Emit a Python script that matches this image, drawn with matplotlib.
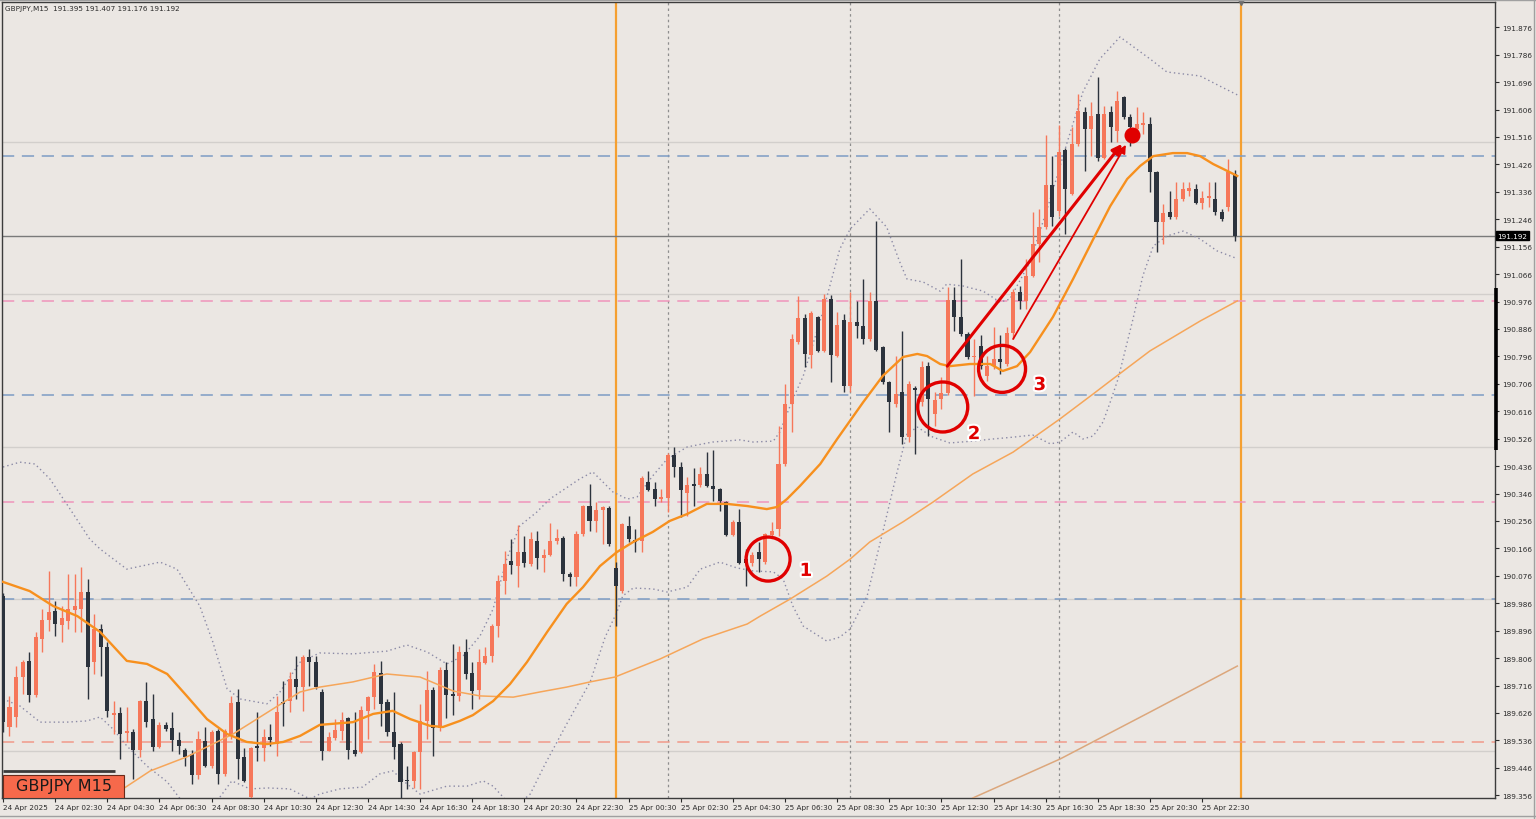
import matplotlib
matplotlib.use("Agg")
import matplotlib.pyplot as plt
import matplotlib.transforms as mtrans
import matplotlib.patheffects as pe
from matplotlib.patches import Rectangle
from matplotlib import font_manager
import numpy as np

# ---------------- data ----------------
opens = [
    190.010, 189.580, 189.613, 189.744, 189.797, 189.685, 189.869, 189.930, 189.961, 189.915,
    189.928, 189.964, 189.967, 190.023, 189.793, 189.902, 189.843, 189.619, 189.626, 189.560,
    189.564, 189.505, 189.665, 189.606, 189.514, 189.587, 189.577, 189.537, 189.505, 189.491,
    189.423, 189.534, 189.452, 189.567, 189.426, 189.557, 189.662, 189.482, 189.350, 189.518,
    189.511, 189.547, 189.524, 189.662, 189.665, 189.738, 189.711, 189.810, 189.793, 189.695,
    189.501, 189.544, 189.567, 189.610, 189.505, 189.498, 189.633, 189.679, 189.757, 189.662,
    189.564, 189.524, 189.406, 189.403, 189.498, 189.600, 189.701, 189.577, 189.767, 189.688,
    189.682, 189.826, 189.757, 189.701, 189.790, 189.813, 189.911, 190.059, 190.125, 190.108,
    190.154, 190.115, 190.190, 190.135, 190.144, 190.190, 190.200, 190.082, 190.072, 190.213,
    190.305, 190.256, 190.292, 190.298, 190.102, 190.026, 190.240, 190.194, 190.190, 190.384,
    190.361, 190.328, 190.331, 190.472, 190.433, 190.348, 190.377, 190.374, 190.410, 190.371,
    190.361, 190.318, 190.210, 190.253, 190.131, 190.118, 190.154, 190.121, 190.210, 190.230,
    190.443, 190.640, 190.843, 190.922, 190.800, 190.925, 190.814, 190.984, 190.797, 190.915,
    190.699, 190.909, 190.896, 190.853, 190.978, 190.827, 190.712, 190.640, 190.679, 190.531,
    190.692, 190.646, 190.764, 190.607, 190.656, 190.676, 190.981, 190.925, 190.869, 190.794,
    190.830, 190.732, 190.764, 190.787, 190.771, 190.873, 191.007, 190.978, 191.060, 191.165,
    191.221, 191.359, 191.273, 191.474, 191.329, 191.493, 191.598, 191.542, 191.591, 191.447,
    191.598, 191.536, 191.647, 191.582, 191.542, 191.556, 191.559, 191.401, 191.237, 191.270,
    191.254, 191.313, 191.339, 191.346, 191.300, 191.316, 191.313, 191.270, 191.287, 191.395,
]
highs = [
    190.020, 189.682, 189.780, 189.800, 189.826, 189.892, 189.967, 190.092, 189.993, 189.977,
    190.082, 190.082, 190.105, 190.066, 189.951, 189.918, 189.859, 189.665, 189.646, 189.646,
    189.574, 189.670, 189.728, 189.688, 189.596, 189.596, 189.629, 189.564, 189.510, 189.505,
    189.567, 189.580, 189.570, 189.574, 189.574, 189.682, 189.705, 189.510, 189.515, 189.629,
    189.574, 189.590, 189.682, 189.731, 189.761, 189.813, 189.816, 189.836, 189.813, 189.705,
    189.564, 189.606, 189.629, 189.613, 189.629, 189.649, 189.682, 189.787, 189.797, 189.672,
    189.695, 189.531, 189.452, 189.500, 189.656, 189.764, 189.711, 189.777, 189.793, 189.852,
    189.846, 189.869, 189.793, 189.836, 189.843, 189.918, 190.079, 190.157, 190.197, 190.243,
    190.207, 190.220, 190.223, 190.164, 190.249, 190.230, 190.207, 190.089, 190.223, 190.310,
    190.377, 190.318, 190.305, 190.305, 190.121, 190.250, 190.272, 190.230, 190.403, 190.420,
    190.384, 190.361, 190.479, 190.499, 190.449, 190.400, 190.430, 190.433, 190.482, 190.490,
    190.364, 190.322, 190.260, 190.295, 190.164, 190.154, 190.187, 190.215, 190.253, 190.568,
    190.705, 190.869, 190.994, 190.935, 190.945, 190.928, 191.000, 190.997, 190.942, 190.935,
    191.007, 190.978, 191.050, 191.007, 191.240, 190.830, 190.715, 190.797, 190.880, 190.715,
    190.700, 190.781, 190.777, 190.680, 190.728, 191.024, 191.024, 191.115, 190.875, 190.853,
    190.866, 190.797, 190.892, 190.866, 190.892, 191.017, 191.027, 191.115, 191.270, 191.280,
    191.523, 191.454, 191.556, 191.480, 191.549, 191.657, 191.614, 191.631, 191.713, 191.618,
    191.618, 191.667, 191.650, 191.590, 191.614, 191.598, 191.582, 191.405, 191.296, 191.339,
    191.369, 191.369, 191.369, 191.362, 191.339, 191.369, 191.369, 191.280, 191.444, 191.407,
]
lows = [
    189.564, 189.551, 189.580, 189.688, 189.662, 189.680, 189.826, 189.895, 189.879, 189.859,
    189.902, 189.892, 189.892, 189.672, 189.754, 189.747, 189.613, 189.557, 189.475, 189.531,
    189.410, 189.482, 189.580, 189.501, 189.510, 189.567, 189.501, 189.491, 189.452, 189.393,
    189.410, 189.450, 189.445, 189.393, 189.420, 189.541, 189.410, 189.400, 189.347, 189.469,
    189.469, 189.518, 189.485, 189.583, 189.629, 189.672, 189.633, 189.715, 189.705, 189.472,
    189.500, 189.537, 189.537, 189.475, 189.485, 189.494, 189.541, 189.639, 189.583, 189.551,
    189.475, 189.347, 189.377, 189.380, 189.377, 189.541, 189.485, 189.567, 189.610, 189.619,
    189.665, 189.738, 189.639, 189.672, 189.787, 189.793, 189.875, 190.016, 190.082, 190.039,
    190.105, 190.108, 190.098, 190.089, 190.140, 190.180, 190.059, 190.043, 190.043, 190.207,
    190.223, 190.220, 190.180, 190.175, 189.911, 190.020, 190.187, 190.154, 190.154, 190.354,
    190.305, 190.318, 190.285, 190.400, 190.269, 190.272, 190.305, 190.367, 190.367, 190.322,
    190.289, 190.207, 190.207, 190.115, 190.043, 190.108, 190.089, 190.115, 190.207, 190.207,
    190.436, 190.548, 190.837, 190.761, 190.758, 190.810, 190.810, 190.712, 190.794, 190.679,
    190.679, 190.856, 190.837, 190.846, 190.815, 190.706, 190.548, 190.630, 190.509, 190.515,
    190.476, 190.633, 190.535, 190.568, 190.623, 190.670, 190.879, 190.863, 190.787, 190.666,
    190.754, 190.715, 190.754, 190.738, 190.764, 190.853, 190.951, 190.950, 191.057, 191.106,
    191.214, 191.224, 191.257, 191.198, 191.326, 191.487, 191.405, 191.454, 191.437, 191.444,
    191.500, 191.500, 191.575, 191.487, 191.526, 191.526, 191.336, 191.139, 191.165, 191.247,
    191.247, 191.306, 191.323, 191.297, 191.280, 191.287, 191.260, 191.241, 191.274, 191.176,
]
closes = [
    189.596, 189.646, 189.744, 189.793, 189.685, 189.875, 189.931, 189.957, 189.918, 189.938,
    189.967, 189.977, 190.023, 189.777, 189.902, 189.843, 189.633, 189.626, 189.557, 189.567,
    189.505, 189.665, 189.596, 189.514, 189.587, 189.573, 189.537, 189.518, 189.482, 189.423,
    189.541, 189.452, 189.564, 189.426, 189.567, 189.659, 189.475, 189.403, 189.511, 189.511,
    189.547, 189.537, 189.629, 189.656, 189.738, 189.711, 189.810, 189.793, 189.711, 189.501,
    189.547, 189.570, 189.603, 189.505, 189.491, 189.636, 189.679, 189.761, 189.656, 189.564,
    189.514, 189.400, 189.403, 189.498, 189.600, 189.701, 189.577, 189.767, 189.685, 189.682,
    189.826, 189.754, 189.698, 189.793, 189.813, 189.911, 190.059, 190.115, 190.112, 190.154,
    190.118, 190.197, 190.135, 190.144, 190.190, 190.200, 190.082, 190.072, 190.213, 190.305,
    190.256, 190.292, 190.302, 190.180, 190.043, 190.246, 190.197, 190.187, 190.397, 190.358,
    190.328, 190.335, 190.472, 190.433, 190.358, 190.374, 190.371, 190.410, 190.371, 190.361,
    190.322, 190.210, 190.253, 190.118, 190.118, 190.144, 190.131, 190.213, 190.223, 190.443,
    190.640, 190.853, 190.922, 190.804, 190.938, 190.814, 190.984, 190.800, 190.899, 190.699,
    190.909, 190.896, 190.853, 190.978, 190.817, 190.712, 190.646, 190.673, 190.531, 190.705,
    190.686, 190.761, 190.656, 190.653, 190.676, 190.981, 190.925, 190.869, 190.794, 190.797,
    190.764, 190.764, 190.787, 190.777, 190.873, 191.007, 190.978, 191.060, 191.165, 191.221,
    191.359, 191.254, 191.467, 191.346, 191.493, 191.601, 191.542, 191.585, 191.447, 191.591,
    191.549, 191.634, 191.582, 191.549, 191.559, 191.562, 191.401, 191.237, 191.267, 191.254,
    191.313, 191.346, 191.349, 191.300, 191.316, 191.323, 191.270, 191.247, 191.401, 191.192,
]

# indicator lines: (bar index, price)
ma20 = [(0, 190.056), (4.1, 190.026), (7.7, 189.977), (11.4, 189.944), (14.9, 189.892),
        (19.0, 189.797), (22.1, 189.787), (25.2, 189.754), (28.2, 189.682), (31.3, 189.606),
        (34.4, 189.557), (37.4, 189.531), (40.5, 189.524), (43.0, 189.531), (45.6, 189.551),
        (48.6, 189.587), (53.7, 189.596), (56.8, 189.623), (59.8, 189.633), (62.5, 189.606),
        (65.5, 189.584), (67.5, 189.580), (70.1, 189.600), (72.1, 189.619), (75.2, 189.665),
        (77.8, 189.721), (80.4, 189.793), (83.5, 189.892), (86.5, 189.984), (89.0, 190.039),
        (91.6, 190.108), (94.2, 190.154), (96.7, 190.187), (99.7, 190.220), (102.3, 190.256),
        (105.0, 190.279), (108.0, 190.312), (111.1, 190.312), (114.2, 190.305), (117.2, 190.295),
        (118.8, 190.302), (120.3, 190.328), (122.3, 190.371), (125.4, 190.443), (128.0, 190.525),
        (132.0, 190.646), (135.0, 190.732), (138.1, 190.794), (140.3, 190.804), (141.8, 190.797),
        (143.8, 190.771), (145.3, 190.764), (148.4, 190.771), (151.5, 190.771), (153.4, 190.748),
        (155.6, 190.764), (157.6, 190.810), (161.1, 190.925), (164.2, 191.050), (167.3, 191.181),
        (169.9, 191.289), (172.5, 191.378), (174.5, 191.421), (176.5, 191.453), (179.5, 191.463),
        (181.7, 191.463), (183.7, 191.453), (185.7, 191.427), (187.9, 191.404), (189.4, 191.388)]

ma75 = [(17.2, 189.360), (22.6, 189.436), (28.2, 189.482), (35.3, 189.557), (41.4, 189.639),
        (45.6, 189.695), (48.6, 189.711), (53.7, 189.728), (58.9, 189.754), (64.0, 189.744),
        (69.1, 189.698), (73.2, 189.682), (78.3, 189.678), (82.4, 189.695), (86.5, 189.711),
        (90.1, 189.728), (93.9, 189.744), (100.8, 189.803), (107.4, 189.869), (114.2, 189.918),
        (116.2, 189.944), (120.8, 190.000), (126.4, 190.075), (130.0, 190.131), (133.0, 190.187),
        (138.1, 190.253), (142.7, 190.318), (148.8, 190.410), (155.0, 190.482), (162.2, 190.591),
        (167.3, 190.673), (170.3, 190.722), (176.0, 190.814), (183.7, 190.912), (189.4, 190.978)]

ma200 = [(148.8, 189.347), (162.2, 189.475), (176.0, 189.629), (189.4, 189.780)]

bb_upper = [(0, 190.433), (2.6, 190.449), (4.9, 190.443), (7.2, 190.394), (10.3, 190.295),
            (13.3, 190.197), (14.9, 190.164), (19.0, 190.098), (24.1, 190.121), (26.7, 190.098),
            (30.2, 189.977), (32.2, 189.859), (34.4, 189.705), (36.4, 189.672), (40.5, 189.656),
            (42.5, 189.695), (45.6, 189.793), (48.6, 189.823), (53.7, 189.820), (58.9, 189.829),
            (62.0, 189.849), (65.1, 189.826), (68.1, 189.787), (70.6, 189.813), (73.2, 189.879),
            (75.2, 189.967), (77.3, 190.131), (79.3, 190.240), (81.9, 190.285), (83.9, 190.328),
            (88.5, 190.394), (90.5, 190.417), (93.6, 190.351), (95.8, 190.328), (97.3, 190.335),
            (99.7, 190.404), (101.9, 190.459), (105.0, 190.499), (108.9, 190.515), (113.1, 190.522),
            (115.1, 190.515), (118.2, 190.518), (119.2, 190.548), (121.2, 190.656), (122.8, 190.732),
            (125.8, 190.942), (128.4, 191.148), (130.0, 191.214), (133.0, 191.280), (135.6, 191.220),
            (137.6, 191.106), (138.7, 191.050), (141.2, 191.040), (143.8, 191.010), (144.8, 191.033),
            (147.3, 191.027), (150.4, 191.010), (153.0, 190.974), (154.5, 190.984), (157.6, 191.106),
            (160.7, 191.312), (163.3, 191.499), (165.7, 191.663), (168.3, 191.772), (171.4, 191.844),
            (176.0, 191.772), (178.6, 191.729), (183.7, 191.716), (186.7, 191.683), (189.4, 191.654)]

bb_lower = [(0, 189.672), (2.6, 189.649), (5.7, 189.596), (9.8, 189.596), (12.9, 189.600),
            (14.9, 189.613), (16.9, 189.573), (19.0, 189.518), (22.1, 189.452), (25.2, 189.400),
            (27.2, 189.344), (30.2, 189.311), (32.4, 189.324), (35.1, 189.403), (37.9, 189.377),
            (40.7, 189.380), (44.0, 189.377), (47.1, 189.344), (48.6, 189.360), (51.7, 189.377),
            (55.2, 189.383), (57.8, 189.426), (59.8, 189.436), (62.0, 189.393), (64.0, 189.360),
            (68.1, 189.386), (71.2, 189.386), (73.7, 189.403), (75.2, 189.386), (77.0, 189.344),
            (78.9, 189.324), (80.9, 189.360), (83.2, 189.459), (86.5, 189.590), (90.1, 189.728),
            (92.4, 189.875), (94.2, 189.957), (95.1, 190.010), (96.7, 190.036), (99.7, 190.033),
            (101.9, 190.023), (105.0, 190.039), (107.0, 190.098), (110.0, 190.121), (112.6, 190.102),
            (115.1, 190.092), (118.2, 190.089), (119.7, 190.066), (121.2, 189.977), (122.8, 189.911),
            (126.4, 189.862), (128.4, 189.875), (130.0, 189.902), (132.6, 190.010), (135.0, 190.220),
            (137.2, 190.417), (138.7, 190.541), (140.3, 190.564), (142.7, 190.531), (145.3, 190.512),
            (148.8, 190.518), (151.9, 190.525), (155.0, 190.531), (158.0, 190.538), (160.7, 190.509),
            (162.2, 190.515), (164.2, 190.548), (165.7, 190.525), (167.3, 190.535), (168.8, 190.581),
            (169.9, 190.646), (171.1, 190.722), (173.4, 190.919), (174.9, 191.060), (176.5, 191.158),
            (178.6, 191.191), (181.1, 191.207), (183.7, 191.181), (186.3, 191.142), (189.1, 191.119)]

xtick_labels = ["24 Apr 2025", "24 Apr 02:30", "24 Apr 04:30", "24 Apr 06:30", "24 Apr 08:30",
                "24 Apr 10:30", "24 Apr 12:30", "24 Apr 14:30", "24 Apr 16:30", "24 Apr 18:30",
                "24 Apr 20:30", "24 Apr 22:30", "25 Apr 00:30", "25 Apr 02:30", "25 Apr 04:30",
                "25 Apr 06:30", "25 Apr 08:30", "25 Apr 10:30", "25 Apr 12:30", "25 Apr 14:30",
                "25 Apr 16:30", "25 Apr 18:30", "25 Apr 20:30", "25 Apr 22:30"]
ytick_values = [189.356, 189.446, 189.536, 189.626, 189.716, 189.806, 189.896, 189.986, 190.076,
                190.166, 190.256, 190.346, 190.436, 190.526, 190.616, 190.706, 190.796, 190.886,
                190.976, 191.066, 191.156, 191.246, 191.336, 191.426, 191.516, 191.606, 191.696,
                191.786, 191.876]

round_levels = [189.5, 190.0, 190.5, 191.0, 191.5]
blue_levels = [189.999, 190.670, 191.454]
pink_levels = [190.319, 190.979]
salmon_levels = [189.530]
last_price = 191.192
day_separators = [94, 190]
session_lines = [102, 130, 162]

# ---------------- style ----------------
BG = "#ebe7e3"
BULL = "#f6775a"
BEAR = "#2c333d"

_names = {f.name for f in font_manager.fontManager.ttflist}
if "Liberation Sans Narrow" in _names:
    TICK_FONT, TICK_SIZE = "Liberation Sans Narrow", 6.6
else:
    TICK_FONT, TICK_SIZE = "DejaVu Sans", 5.2

W, H = 1536, 820
fig = plt.figure(figsize=(W / 100, H / 100), dpi=100, facecolor=BG)
ax = fig.add_axes([2 / W, 1 - 799 / H, 1493 / W, 796 / H])
ax.set_facecolor(BG)
ax.set_xlim(-0.15, 228.94)
ax.set_ylim(189.3471, 191.9587)

# horizontal levels
for lv in round_levels:
    ax.axhline(lv, color="#d2cfcc", lw=1.0, zorder=1)
for lv in blue_levels:
    ax.axhline(lv, color="#7d9cc4", lw=1.1, ls=(0, (8, 5)), zorder=1.5)
for lv in pink_levels:
    ax.axhline(lv, color="#ef94bb", lw=1.1, ls=(0, (8, 5)), zorder=1.5)
for lv in salmon_levels:
    ax.axhline(lv, color="#f19a8a", lw=1.1, ls=(0, (8, 5)), zorder=1.5)
ax.axhline(last_price, color="#7a7a7a", lw=1.0, zorder=1.6)

# vertical lines
for b in session_lines:
    ax.axvline(b, color="#8e8e8e", lw=0.9, ls=(0, (2, 2.5)), zorder=1.2)
for b in day_separators:
    ax.axvline(b, color="#f5a031", lw=1.6, zorder=1.3)

# bollinger bands
for band in (bb_upper, bb_lower):
    bx, by = zip(*band)
    ax.plot(bx, by, color="#8b8aa6", lw=1.0, ls=(0, (1, 2.2)), zorder=2)

# candles
idx = np.arange(len(closes))
o = np.array(opens); c = np.array(closes); h = np.array(highs); l = np.array(lows)
bull = c >= o
cols = np.where(bull, BULL, BEAR)
ax.vlines(idx, l, h, colors=cols, lw=1.0, zorder=3)
bottoms = np.minimum(o, c)
heights = np.maximum(np.abs(c - o), 0.004)
ax.bar(idx, heights, bottom=bottoms, width=0.62, color=cols, lw=0, zorder=3.2)

# moving averages
mx, my = zip(*ma200)
ax.plot(mx, my, color="#dca77c", lw=1.1, zorder=4)
mx, my = zip(*ma75)
ax.plot(mx, my, color="#f6a65a", lw=1.1, zorder=4)
mx, my = zip(*ma20)
ax.plot(mx, my, color="#f7901e", lw=1.7, zorder=4.2)

# annotations: circles, numbers, arrows, dot
RED = "#e00000"
circles = [(117.4, 190.131, 22), (144.2, 190.630, 25), (153.3, 190.755, 23.5)]
for cx, cy, r in circles:
    d = 2 * r * 0.72
    ax.scatter([cx], [cy], s=d * d, facecolors="none", edgecolors=RED, linewidths=2.4, zorder=6)
numbers = [("1", 123.2, 190.092), ("2", 149.0, 190.541), ("3", 159.1, 190.702)]
for t, nx, ny in numbers:
    ax.text(nx, ny, t, color=RED, fontsize=13, fontweight="bold", ha="center", va="center",
            zorder=7, path_effects=[pe.withStroke(linewidth=3, foreground="white")])
ax.annotate("", xy=(171.7, 191.493), xytext=(144.9, 190.764),
            arrowprops=dict(arrowstyle="-|>", color=RED, lw=2.2, mutation_scale=14,
                            shrinkA=0, shrinkB=0), zorder=6)
ax.annotate("", xy=(172.3, 191.490), xytext=(155.0, 190.853),
            arrowprops=dict(arrowstyle="-|>", color=RED, lw=1.3, mutation_scale=12,
                            shrinkA=0, shrinkB=0), zorder=6)
ax.plot([173.2], [191.522], "o", color=RED, ms=10.5, zorder=7)

# axes styling
for side in ("left", "top", "right", "bottom"):
    ax.spines[side].set_color("#3c3c3c")
    ax.spines[side].set_linewidth(1.0)
ax.yaxis.tick_right()
ax.set_yticks(ytick_values)
ax.set_yticklabels([f"{v:.3f}" for v in ytick_values])
ax.tick_params(axis="y", direction="out", length=3, width=0.8, pad=2, labelsize=TICK_SIZE,
               colors="#2a2a2a")
ax.set_xticks(np.arange(0, 8 * len(xtick_labels), 8))
ax.set_xticklabels(xtick_labels)
ax.tick_params(axis="x", direction="out", length=3, width=0.8, pad=1.5, labelsize=TICK_SIZE,
               colors="#2a2a2a")
for lab in ax.get_xticklabels():
    lab.set_ha("left")
    lab.set_family(TICK_FONT)
for lab in ax.get_yticklabels():
    lab.set_family(TICK_FONT)

# right-axis decorations
btr = mtrans.blended_transform_factory(ax.transAxes, ax.transData)
ax.plot([1.0008, 1.0008], [190.489, 191.020], transform=btr, color="black", lw=2.6,
        clip_on=False, zorder=8, solid_capstyle="butt")
ax.text(1.0016, last_price, "191.192", transform=btr, color="white", fontsize=TICK_SIZE,
        family=TICK_FONT, ha="left", va="center", zorder=9,
        bbox=dict(boxstyle="square,pad=0.2", fc="black", ec="black"))
ax.plot([190], [191.9587], marker="v", color="#6e6e6e", ms=4.5, clip_on=False, zorder=8)

# header text and symbol box
ax.text(0.002, 0.9925, "GBPJPY,M15  191.395 191.407 191.176 191.192", transform=ax.transAxes,
        fontsize=TICK_SIZE, family=TICK_FONT, color="#2a2a2a", ha="left", va="center", zorder=9)
ax.plot([0.0007, 0.0757], [0.034, 0.034], transform=ax.transAxes, color="#3a3a3a", lw=2,
        zorder=9, solid_capstyle="butt")
ax.add_patch(Rectangle((0.0007, 0.0005), 0.081, 0.0289, transform=ax.transAxes,
                       facecolor="#f6694b", edgecolor="#6a2a1a", lw=0.8, zorder=9))
ax.text(0.0412, 0.0152, "GBPJPY M15", transform=ax.transAxes, fontsize=11.5,
        color="#1a1a1a", ha="center", va="center", zorder=10)

# outer frame
fig.add_artist(plt.Line2D([0, 1], [1 - 1 / H, 1 - 1 / H], transform=fig.transFigure,
                          color="#a0a0a0", lw=1))
fig.add_artist(plt.Line2D([1534 / W, 1534 / W], [0, 1], transform=fig.transFigure,
                          color="#a0a0a0", lw=1))
fig.add_artist(plt.Line2D([0, 1], [3 / H, 3 / H], transform=fig.transFigure,
                          color="#a0a0a0", lw=1))

fig.savefig("out.png", dpi=100, facecolor=BG)
